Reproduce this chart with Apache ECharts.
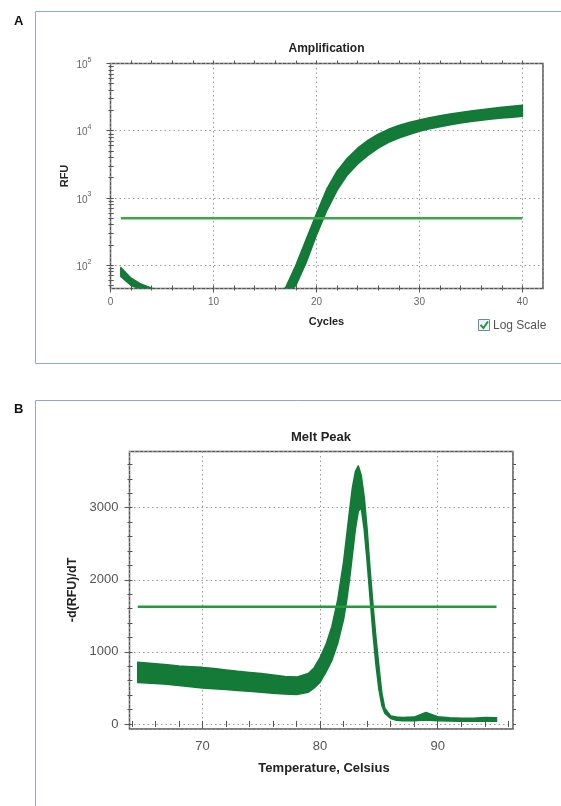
<!DOCTYPE html>
<html>
<head>
<meta charset="utf-8">
<script src="https://cdn.jsdelivr.net/npm/echarts@6/dist/echarts.min.js"></script>
<style>
html,body{margin:0;padding:0;background:#fff;}
#chart{width:561px;height:806px;}
</style>
</head>
<body>
<div id="chart"></div>
<script>
// ---------- Panel A: Amplification ----------
const ampCycles = [1,2,3,4,5,6,7,8,9,10,11,12,13,14,15,16,17,18,19,20,21,22,23,24,25,26,27,28,29,30,31,32,33,34,35,36,37,38,39,40];
const ampHigh = [92,64,52,45.5,42,41,41,40,40,40,40,40,40,40,40,41,46,100,240,580,1350,2500,3900,5500,7200,8900,10500,12000,13300,14500,15600,16700,17700,18700,19600,20500,21400,22300,23200,24000];
const ampLow  = [68,50,44,41,39,38,37,36,36,35,35,35,35,35,35,35,36,50,110,280,650,1300,2200,3200,4300,5500,6700,7800,8800,9800,10700,11500,12300,13000,13700,14300,14900,15400,15900,16400];
const ampThresholdCycles = [1, 40];
const ampThresholdRFU = 500;
const ampXTicks = [2,4,6,8,10,12,14,16,18,20,22,24,26,28,30,32,34,36,38,40];
const ampYTicks = [50,60,70,80,90,100,200,300,400,500,600,700,800,900,1000,2000,3000,4000,5000,6000,7000,8000,9000,10000,20000,30000,40000,50000,60000,70000,80000,90000];

// ---------- Panel B: Melt Peak ----------
const meltTemps = [64.5,66,67,68,69,70,71,72,73,74,75,76,77,78,79,79.5,80,80.5,81,81.5,82,82.25,82.5,82.75,83,83.25,83.5,83.75,84,84.25,84.5,84.75,85,85.25,85.5,86,86.5,87,88,89,90,91,92,93,94,95];
const meltHigh = [855,835,820,805,795,785,770,750,730,715,700,680,660,650,700,780,920,1100,1350,1720,2250,2600,2950,3280,3500,3580,3450,3150,2700,2150,1650,1200,800,430,220,110,95,90,95,160,100,85,80,80,90,85];
const meltLow  = [575,560,550,535,515,500,490,478,465,452,440,425,415,410,440,500,580,720,880,1120,1450,1700,2000,2350,2700,2950,3000,2700,2250,1750,1250,820,480,260,150,75,50,45,45,55,45,40,38,38,40,38];
const meltThresholdTemps = [64.5, 95];
const meltThreshold = 1625;
const meltXTicks = [64,66,68,70,72,74,76,78,80,82,84,86,88,90,92,94,96];
const meltYTicks = [0,200,400,600,800,1000,1200,1400,1600,1800,2000,2200,2400,2600,2800,3000,3200,3400,3600];

const FONT = '"Liberation Sans", Arial, sans-serif';
const G = '#137a37';
const FRAME = '#555';
const LOGMIN = Math.log10(45);

function tickAx(grid, pos, min, max, vals, inside, len) {
  return {
    gridIndex: grid, type: 'value', position: pos, min: min, max: max,
    axisLine: {show: false}, axisLabel: {show: false}, splitLine: {show: false},
    axisTick: {show: true, inside: inside, length: len, customValues: vals, lineStyle: {color: FRAME, width: 1}}
  };
}
const gridLine = {show: true, lineStyle: {color: '#999', width: 1, type: [1.5, 3]}};

// band between a high and low curve, drawn with the axes' own coordinate mapping
function bandSeries(name, xi, yi, xs, hi, lo) {
  return {
    type: 'custom', name: name, xAxisIndex: xi, yAxisIndex: yi, z: 3, silent: true,
    data: [[xs[0], hi[0]]],
    renderItem: function (params, api) {
      const pts = [];
      for (let i = 0; i < xs.length; i++) pts.push(api.coord([xs[i], hi[i]]));
      for (let i = xs.length - 1; i >= 0; i--) pts.push(api.coord([xs[i], lo[i]]));
      const cs = params.coordSys;
      return {
        type: 'polygon',
        shape: {points: pts},
        style: {fill: G, stroke: G, lineWidth: 1.5, lineJoin: 'round'},
        clipPath: {type: 'rect', shape: {x: cs.x, y: cs.y, width: cs.width, height: cs.height}}
      };
    }
  };
}

const chart = echarts.init(document.getElementById('chart'), null, {renderer: 'canvas'});
const ampYLog = ampYTicks.map(v => Math.log10(v));

const option = {
  animation: false,
  backgroundColor: '#fff',
  textStyle: {fontFamily: FONT},
  grid: [
    {left: 110.5, top: 63.5, width: 432.5, height: 225, show: true, borderColor: FRAME, borderWidth: 1.5, backgroundColor: 'rgba(0,0,0,0)', outerBoundsMode: 'none', containLabel: false},
    {left: 129.5, top: 451.5, width: 383.5, height: 277.5, show: true, borderColor: FRAME, borderWidth: 1.5, backgroundColor: 'rgba(0,0,0,0)', outerBoundsMode: 'none', containLabel: false}
  ],
  xAxis: [
    {gridIndex: 0, type: 'value', position: 'bottom', min: 0, max: 42, interval: 10,
     axisLine: {show: false}, axisTick: {show: true, length: 4, lineStyle: {color: FRAME}},
     axisLabel: {margin: 9, fontSize: 10, color: '#666', fontFamily: FONT, showMaxLabel: false, formatter: v => String(v)},
     splitLine: gridLine},
    tickAx(0, 'bottom', 0, 42, ampXTicks, true, 3),
    tickAx(0, 'bottom', 0, 42, ampXTicks, false, 2),
    tickAx(0, 'top', 0, 42, ampXTicks, false, 3),
    {gridIndex: 1, type: 'value', position: 'bottom', min: 63.8, max: 96.4, splitNumber: 3,
     axisLine: {show: false}, axisTick: {show: true, length: 5, lineStyle: {color: FRAME}},
     axisLabel: {margin: 11, fontSize: 13, color: '#555', fontFamily: FONT, showMinLabel: false, showMaxLabel: false, formatter: v => String(v)},
     splitLine: gridLine},
    tickAx(1, 'bottom', 63.8, 96.4, meltXTicks, true, 3),
    tickAx(1, 'bottom', 63.8, 96.4, meltXTicks, false, 3),
    tickAx(1, 'top', 63.8, 96.4, meltXTicks, false, 3)
  ],
  yAxis: [
    {gridIndex: 0, type: 'log', logBase: 10, position: 'left', min: 45, max: 100000,
     axisLine: {show: false}, axisTick: {show: true, length: 4, lineStyle: {color: FRAME}},
     axisLabel: {margin: 19, showMinLabel: false,
       formatter: function (v) { return '{b|10}{s|' + Math.round(Math.log10(v)) + '}'; },
       rich: {b: {fontSize: 10, color: '#666', fontFamily: FONT, verticalAlign: 'bottom', lineHeight: 14},
              s: {fontSize: 7, color: '#666', fontFamily: FONT, verticalAlign: 'top', lineHeight: 14}}},
     splitLine: gridLine},
    tickAx(0, 'left', LOGMIN, 5, ampYLog, true, 3),
    tickAx(0, 'left', LOGMIN, 5, ampYLog, false, 2),
    tickAx(0, 'right', LOGMIN, 5, ampYLog, false, 3),
    {gridIndex: 1, type: 'value', position: 'left', min: -70, max: 3780, splitNumber: 4,
     axisLine: {show: false}, axisTick: {show: true, length: 5, lineStyle: {color: FRAME}},
     axisLabel: {margin: 11, fontSize: 13, color: '#555', fontFamily: FONT, showMinLabel: false, showMaxLabel: false, formatter: v => String(v)},
     splitLine: gridLine},
    tickAx(1, 'left', -70, 3780, meltYTicks, true, 3),
    tickAx(1, 'left', -70, 3780, meltYTicks, false, 2),
    tickAx(1, 'right', -70, 3780, meltYTicks, false, 3)
  ],
  series: [
    bandSeries('amplification', 0, 0, ampCycles, ampHigh, ampLow),
    {type: 'line', name: 'ampThreshold', xAxisIndex: 0, yAxisIndex: 0, symbol: 'none', clip: true,
     data: ampThresholdCycles.map(c => [c, ampThresholdRFU]), lineStyle: {color: '#3aaa48', width: 2.5}, z: 4},
    bandSeries('meltPeak', 4, 4, meltTemps, meltHigh, meltLow),
    {type: 'line', name: 'meltThreshold', xAxisIndex: 4, yAxisIndex: 4, symbol: 'none', clip: true,
     data: meltThresholdTemps.map(t => [t, meltThreshold]), lineStyle: {color: '#249a3a', width: 2.5}, z: 4}
  ],
  graphic: [
    {type: 'rect', silent: true, shape: {x: 35.5, y: 11.5, width: 560, height: 352}, style: {fill: 'none', stroke: '#8da8d6', lineWidth: 1}},
    {type: 'rect', silent: true, shape: {x: 35.5, y: 400.5, width: 560, height: 430}, style: {fill: 'none', stroke: '#8da8d6', lineWidth: 1}},
    {type: 'text', x: 14, y: 15, style: {text: 'A', font: 'bold 13px ' + FONT, fill: '#111', align: 'left', verticalAlign: 'top'}},
    {type: 'text', x: 14, y: 403, style: {text: 'B', font: 'bold 13px ' + FONT, fill: '#111', align: 'left', verticalAlign: 'top'}},
    {type: 'text', x: 326.5, y: 48.5, style: {text: 'Amplification', font: 'bold 12px ' + FONT, fill: '#222', align: 'center', verticalAlign: 'middle'}},
    {type: 'text', x: 326.5, y: 322, style: {text: 'Cycles', font: 'bold 11px ' + FONT, fill: '#222', align: 'center', verticalAlign: 'middle'}},
    {type: 'text', x: 64.5, y: 176, rotation: Math.PI / 2, style: {text: 'RFU', font: 'bold 11px ' + FONT, fill: '#222', align: 'center', verticalAlign: 'middle'}},
    {type: 'rect', shape: {x: 478.5, y: 319.5, width: 11, height: 11}, style: {fill: '#eef3f9', stroke: '#6f86a6', lineWidth: 1}},
    {type: 'polyline', shape: {points: [[480.5, 325], [483.5, 328], [488, 321.5]]}, style: {fill: 'none', stroke: '#1e9a38', lineWidth: 2}},
    {type: 'text', x: 493, y: 325.5, style: {text: 'Log Scale', font: '12px ' + FONT, fill: '#555', align: 'left', verticalAlign: 'middle'}},
    {type: 'text', x: 321, y: 437, style: {text: 'Melt Peak', font: 'bold 13px ' + FONT, fill: '#222', align: 'center', verticalAlign: 'middle'}},
    {type: 'text', x: 324, y: 768.5, style: {text: 'Temperature, Celsius', font: 'bold 13px ' + FONT, fill: '#222', align: 'center', verticalAlign: 'middle'}},
    {type: 'text', x: 72.5, y: 590, rotation: Math.PI / 2, style: {text: '-d(RFU)/dT', font: 'bold 12.5px ' + FONT, fill: '#222', align: 'center', verticalAlign: 'middle'}}
  ]
};
chart.setOption(option);
</script>
</body>
</html>
